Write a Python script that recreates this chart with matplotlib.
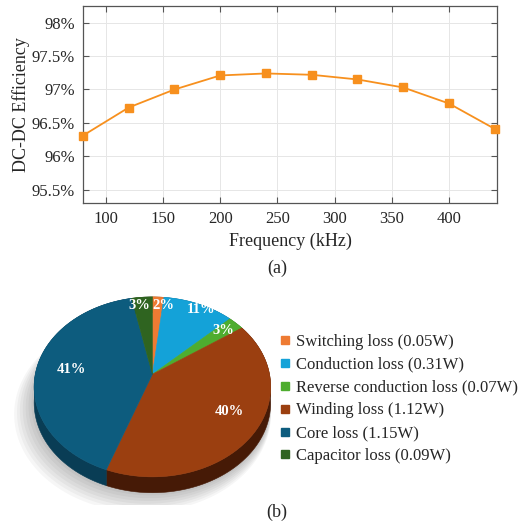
import numpy as np
import matplotlib
matplotlib.use('Agg')
import matplotlib.pyplot as plt
from matplotlib.ticker import FuncFormatter
from matplotlib.patches import Polygon
from matplotlib.lines import Line2D

# Daten (a): Wirkungsgrad ueber Frequenz
freq_khz = [80, 120, 160, 200, 240, 280, 320, 360, 400, 440]
efficiency = [96.31, 96.73, 97.00, 97.21, 97.24, 97.22, 97.15, 97.03, 96.79, 96.41]

# Daten (b): Verlustaufteilung
loss_names = ['Switching loss', 'Conduction loss', 'Reverse conduction loss',
              'Winding loss', 'Core loss', 'Capacitor loss']
loss_watts = [0.05, 0.31, 0.07, 1.12, 1.15, 0.09]
pie_labels = ['2%', '11%', '3%', '40%', '41%', '3%']

top_colors = ['#ee7b33', '#14a2d8', '#4ead2f', '#9b3f10', '#0d5c7e', '#2f6420']
side_colors = ['#8a4218', '#0b5d7d', '#2c6a1a', '#461a06', '#093d55', '#1b3b12']
# Beschriftungsradius und Verschiebung (Punkte) je Segment
label_r = [0.88, 0.92, 0.84, 0.74, 0.70, 0.88]
label_dx = [4.0, 4.0, 0.0, 3.0, 0.0, -3.0]
label_dy = [0.0, 0.0, 0.0, 4.0, 0.0, 0.0]

plt.rcParams.update({
    'font.family': ['Liberation Serif', 'DejaVu Serif'],
    'mathtext.fontset': 'stix',
    'text.color': '#262626',
    'axes.labelcolor': '#262626',
    'xtick.color': '#262626',
    'ytick.color': '#262626',
})

W, H = 524, 525
fig = plt.figure(figsize=(W / 100, H / 100), dpi=100)

# ---------------- (a) Linienplot ----------------
ax1 = fig.add_axes([83 / W, 1 - 203 / H, (497 - 83) / W, (203 - 6) / H])
ax1.plot(freq_khz, efficiency, color='#f7901e', lw=1.3, marker='s', ms=5.5,
         mfc='#f7901e', mec='#f7901e', clip_on=False, zorder=3)
ax1.set_xlim(80, 442)
ax1.set_ylim(95.3, 98.25)
ax1.set_xticks([100, 150, 200, 250, 300, 350, 400])
ax1.set_yticks([95.5, 96, 96.5, 97, 97.5, 98])
ax1.yaxis.set_major_formatter(FuncFormatter(lambda v, p: f'{v:g}%'))
ax1.tick_params(direction='in', top=True, right=True, length=4, width=0.8,
                labelsize=12, color='#555555', pad=6)
ax1.grid(True, color='#e6e6e6', lw=0.7)
ax1.set_axisbelow(True)
for s in ax1.spines.values():
    s.set_color('#555555')
    s.set_linewidth(0.9)
ax1.set_xlabel('Frequency (kHz)', fontsize=13, labelpad=4)
ax1.set_ylabel('DC-DC Efficiency', fontsize=13, labelpad=1)
fig.text(277 / W, 1 - 268 / H, '(a)', fontsize=13, ha='center', va='center')

# ---------------- (b) 3D-Kreisdiagramm ----------------
# Perspektivische Projektion der Einheitsscheibe (u nach rechts, v zum Betrachter)
a = 0.14
depth = 0.18
cx_px, cy_px, sx, sy = 152.4, 374.3, 117.1, 88.2
x0_px, x1_px, ytop_px, ybot_px = 0, 290, 280, 505
ax2 = fig.add_axes([x0_px / W, 1 - ybot_px / H, (x1_px - x0_px) / W, (ybot_px - ytop_px) / H])
ax2.set_xlim((x0_px - cx_px) / sx, (x1_px - cx_px) / sx)
ax2.set_ylim(-(ybot_px - cy_px) / sy, (cy_px - ytop_px) / sy)
ax2.axis('off')


def proj(u, v):
    d = 1 - a * v
    return u / d, -v / d


vals = np.array(loss_watts)
frac = vals / vals.sum()
edges = np.concatenate([[0], np.cumsum(frac)]) * 2 * np.pi

# Schatten
full = np.linspace(0, 2 * np.pi, 200)
for k in range(8):
    s = 1.0 + 0.012 * k
    X, Y = proj(np.sin(full) * s, -np.cos(full) * s)
    ax2.add_patch(Polygon(np.column_stack([X - 0.012 * k, Y - depth - 0.015 * k]),
                          closed=True, fc='#000000', ec='none', alpha=0.035, zorder=1))

# Seitenflaechen
for i in range(len(vals)):
    phi = np.linspace(edges[i], edges[i + 1], 80)
    X, Y = proj(np.sin(phi), -np.cos(phi))
    pts = np.column_stack([np.concatenate([X, X[::-1]]),
                           np.concatenate([Y, Y[::-1] - depth])])
    ax2.add_patch(Polygon(pts, closed=True, fc=side_colors[i], ec=side_colors[i],
                          lw=0.4, zorder=2))

# Oberseite
for i in range(len(vals)):
    phi = np.linspace(edges[i], edges[i + 1], 80)
    X, Y = proj(np.sin(phi), -np.cos(phi))
    pts = np.column_stack([np.concatenate([[0], X]), np.concatenate([[0], Y])])
    ax2.add_patch(Polygon(pts, closed=True, fc=top_colors[i], ec=top_colors[i],
                          lw=0.4, zorder=3))
    mid = (edges[i] + edges[i + 1]) / 2
    lx, ly = proj(label_r[i] * np.sin(mid), -label_r[i] * np.cos(mid))
    ax2.annotate(pie_labels[i], (lx, ly), xytext=(label_dx[i], label_dy[i]),
                 textcoords='offset points', color='white', fontsize=10.5,
                 fontweight='bold', ha='center', va='center', zorder=4)

handles = [Line2D([], [], ls='none', marker='s', ms=6, mfc=c, mec=c) for c in top_colors]
texts = [f'{n} ({w:.2f}W)' for n, w in zip(loss_names, loss_watts)]
fig.legend(handles, texts, loc='upper left', bbox_to_anchor=(280 / W, 1 - 334 / H),
           frameon=False, fontsize=12, handlelength=0.6, handletextpad=0.35,
           labelspacing=0.41, borderpad=0, borderaxespad=0)

fig.text(277 / W, 1 - 512 / H, '(b)', fontsize=13, ha='center', va='center')

fig.savefig('out.png', dpi=100)
